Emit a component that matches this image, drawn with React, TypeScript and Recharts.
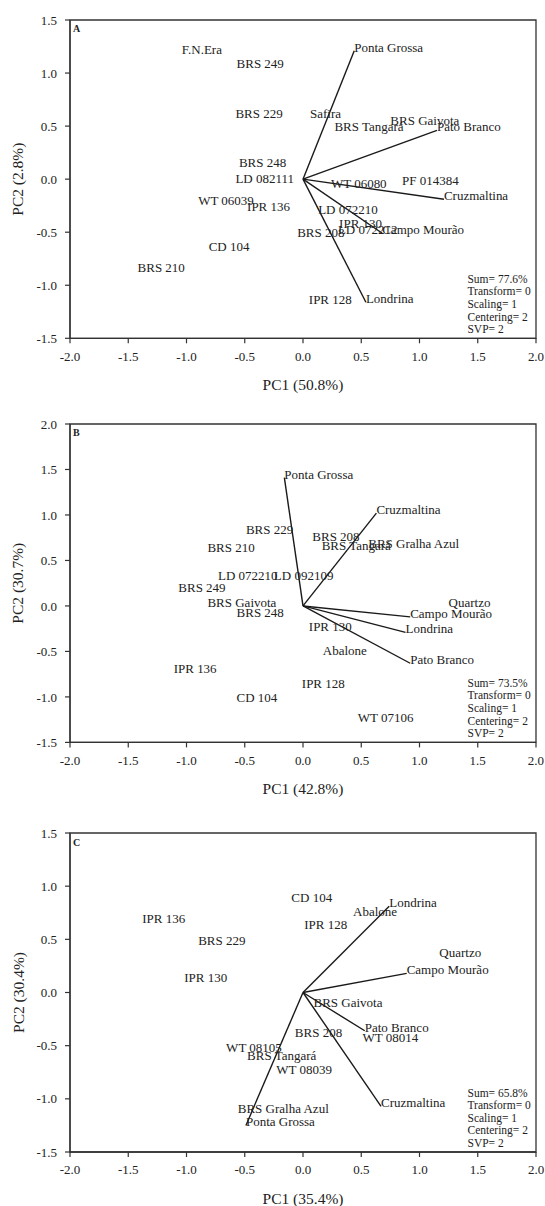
import React from 'react';
import {
  ScatterChart,
  Scatter,
  XAxis,
  YAxis,
  ReferenceLine,
  ReferenceArea,
  Label,
} from 'recharts';

const FONT = '"Liberation Serif", "Times New Roman", Times, serif';
const INK = '#222';

// ---------- Panel A ----------
const genoA_names = ['F.N.Era', 'BRS 249', 'BRS 229', 'Safira', 'BRS Tangará', 'BRS Gaivota', 'BRS 248', 'LD 082111', 'WT 06080', 'PF 014384', 'WT 06039', 'IPR 136', 'LD 072210', 'IPR 130', 'LD 072212', 'BRS 208', 'CD 104', 'BRS 210', 'IPR 128'];
const genoA_pc1 = [-1.04, -0.57, -0.58, 0.06, 0.27, 0.75, -0.55, -0.58, 0.24, 0.85, -0.9, -0.48, 0.13, 0.31, 0.3, -0.05, -0.81, -1.42, 0.05];
const genoA_pc2 = [1.19, 1.06, 0.59, 0.59, 0.46, 0.52, 0.12, -0.03, -0.07, -0.05, -0.23, -0.29, -0.32, -0.45, -0.51, -0.54, -0.67, -0.87, -1.17];
const envA_names = ['Ponta Grossa', 'Pato Branco', 'Cruzmaltina', 'Campo Mourão', 'Londrina'];
const envA_pc1 = [0.44, 1.15, 1.21, 0.68, 0.54];
const envA_pc2 = [1.21, 0.46, -0.19, -0.51, -1.16];

// ---------- Panel B ----------
const genoB_names = ['BRS 229', 'BRS 208', 'BRS Tangará', 'BRS Gralha Azul', 'BRS 210', 'LD 072210', 'LD 092109', 'BRS 249', 'BRS Gaivota', 'BRS 248', 'Quartzo', 'IPR 130', 'Abalone', 'IPR 136', 'IPR 128', 'CD 104', 'WT 07106'];
const genoB_pc1 = [-0.49, 0.08, 0.16, 0.56, -0.82, -0.73, -0.25, -1.07, -0.82, -0.57, 1.25, 0.05, 0.17, -1.11, -0.01, -0.57, 0.47];
const genoB_pc2 = [0.8, 0.73, 0.63, 0.65, 0.6, 0.3, 0.3, 0.16, 0.0, -0.11, 0.0, -0.27, -0.53, -0.73, -0.89, -1.05, -1.26];
const envB_names = ['Ponta Grossa', 'Cruzmaltina', 'Campo Mourão', 'Londrina', 'Pato Branco'];
const envB_pc1 = [-0.16, 0.63, 0.92, 0.88, 0.92];
const envB_pc2 = [1.41, 1.02, -0.12, -0.29, -0.63];

// ---------- Panel C ----------
const genoC_names = ['CD 104', 'Abalone', 'IPR 136', 'IPR 128', 'BRS 229', 'Quartzo', 'IPR 130', 'BRS Gaivota', 'BRS 208', 'WT 08014', 'WT 08105', 'BRS Tangará', 'WT 08039', 'BRS Gralha Azul'];
const genoC_pc1 = [-0.1, 0.43, -1.38, 0.01, -0.9, 1.17, -1.02, 0.09, -0.07, 0.51, -0.66, -0.48, -0.23, -0.56];
const genoC_pc2 = [0.86, 0.73, 0.66, 0.61, 0.46, 0.34, 0.11, -0.13, -0.41, -0.46, -0.55, -0.63, -0.76, -1.12];
const envC_names = ['Londrina', 'Campo Mourão', 'Pato Branco', 'Cruzmaltina', 'Ponta Grossa'];
const envC_pc1 = [0.74, 0.89, 0.53, 0.67, -0.49];
const envC_pc2 = [0.81, 0.18, -0.36, -1.07, -1.25];

const xTicks = [-2, -1.5, -1, -0.5, 0, 0.5, 1, 1.5, 2];
const yTicks15 = [-1.5, -1, -0.5, 0, 0.5, 1, 1.5];
const yTicks20 = [-1.5, -1, -0.5, 0, 0.5, 1, 1.5, 2];

const statsA = ['Sum= 77.6%', 'Transform= 0', 'Scaling= 1', 'Centering= 2', 'SVP= 2'];
const statsB = ['Sum= 73.5%', 'Transform= 0', 'Scaling= 1', 'Centering= 2', 'SVP= 2'];
const statsC = ['Sum= 65.8%', 'Transform= 0', 'Scaling= 1', 'Centering= 2', 'SVP= 2'];

const build = (names: string[], xs: number[], ys: number[]) =>
  names.map((name, i) => ({ name, x: xs[i], y: ys[i] }));

const panels = [
  {
    id: 'A', top: 0, plotH: 318.3, yDomain: [-1.5, 1.5], yTicks: yTicks15,
    xTitle: 'PC1 (50.8%)', yTitle: 'PC2 (2.8%)', stats: statsA,
    geno: build(genoA_names, genoA_pc1, genoA_pc2),
    env: build(envA_names, envA_pc1, envA_pc2),
  },
  {
    id: 'B', top: 404.3, plotH: 318.4, yDomain: [-1.5, 2], yTicks: yTicks20,
    xTitle: 'PC1 (42.8%)', yTitle: 'PC2 (30.7%)', stats: statsB,
    geno: build(genoB_names, genoB_pc1, genoB_pc2),
    env: build(envB_names, envB_pc1, envB_pc2),
  },
  {
    id: 'C', top: 813.3, plotH: 319, yDomain: [-1.5, 1.5], yTicks: yTicks15,
    xTitle: 'PC1 (35.4%)', yTitle: 'PC2 (30.4%)', stats: statsC,
    geno: build(genoC_names, genoC_pc1, genoC_pc2),
    env: build(envC_names, envC_pc1, envC_pc2),
  },
];

const W = 545;
const M = { top: 20, right: 9, bottom: 6, left: 10 };
const YW = 60;
const XH = 50;

const TextMark = (props: any) => {
  const { cx, cy, payload } = props;
  if (cx == null || cy == null) return null;
  return (
    <text x={cx} y={cy} dy={1} fontSize={13} fontFamily={FONT} fill={INK} textAnchor="start">
      {payload.name}
    </text>
  );
};

const Panel = ({ p }: { p: any }) => {
  const H = M.top + p.plotH + XH + M.bottom;
  const plotLeft = M.left + YW;
  const plotRight = W - M.right;
  const plotTop = M.top;
  const plotBottom = M.top + p.plotH;
  return (
    <div style={{ position: 'absolute', left: 0, top: p.top, width: W, height: H }}>
      <ScatterChart width={W} height={H} margin={M}>
        <XAxis
          type="number"
          dataKey="x"
          domain={[-2, 2]}
          ticks={xTicks}
          allowDataOverflow
          tickFormatter={(v: number) => v.toFixed(1)}
          tickSize={5}
          tickMargin={8}
          height={XH}
          axisLine={{ stroke: '#333', strokeWidth: 1.3 }}
          tickLine={{ stroke: '#333', strokeWidth: 1.2 }}
          tick={{ fontSize: 13, fontFamily: FONT, fill: INK }}
        >
          <Label
            content={() => (
              <text
                x={(plotLeft + plotRight) / 2}
                y={plotBottom + 51.5}
                textAnchor="middle"
                fontSize={15.5}
                fontFamily={FONT}
                fill={INK}
              >
                {p.xTitle}
              </text>
            )}
          />
        </XAxis>
        <YAxis
          type="number"
          dataKey="y"
          domain={p.yDomain}
          ticks={p.yTicks}
          allowDataOverflow
          tickFormatter={(v: number) => v.toFixed(1)}
          tickSize={5}
          tickMargin={8}
          width={YW}
          axisLine={{ stroke: '#333', strokeWidth: 1.3 }}
          tickLine={{ stroke: '#333', strokeWidth: 1.2 }}
          tick={{ fontSize: 13, fontFamily: FONT, fill: INK }}
        >
          <Label
            content={() => {
              const cx = 18;
              const cy = (plotTop + plotBottom) / 2;
              return (
                <text
                  x={cx}
                  y={cy}
                  transform={`rotate(-90, ${cx}, ${cy})`}
                  textAnchor="middle"
                  dominantBaseline="central"
                  fontSize={15.5}
                  fontFamily={FONT}
                  fill={INK}
                >
                  {p.yTitle}
                </text>
              );
            }}
          />
        </YAxis>
        <ReferenceArea
          x1={-2}
          x2={2}
          y1={p.yDomain[0]}
          y2={p.yDomain[1]}
          fill="none"
          fillOpacity={0}
          stroke="#333"
          strokeWidth={1.3}
          label={{
            content: () => (
              <g>
                <text x={plotLeft + 3} y={plotTop + 12.5} fontSize={10} fontWeight="bold" fontFamily={FONT} fill={INK}>
                  {p.id}
                </text>
                {p.stats.map((s: string, i: number) => (
                  <text
                    key={s}
                    x={plotRight - 68.5}
                    y={plotBottom - 59.5 + i * 12.6 + 4}
                    fontSize={11.5}
                    fontFamily={FONT}
                    fill={INK}
                  >
                    {s}
                  </text>
                ))}
              </g>
            ),
          }}
        />
        {p.env.map((e: any) => (
          <ReferenceLine
            key={e.name}
            segment={[{ x: 0, y: 0 }, { x: e.x, y: e.y }]}
            stroke="#1a1a1a"
            strokeWidth={1.4}
            ifOverflow="visible"
          />
        ))}
        <Scatter data={p.geno} shape={TextMark} isAnimationActive={false} />
        <Scatter data={p.env} shape={TextMark} isAnimationActive={false} />
      </ScatterChart>
    </div>
  );
};

export default function App() {
  return (
    <div style={{ position: 'absolute', left: 0, top: 0, width: W, height: 1206, background: '#fff', overflow: 'hidden' }}>
      {panels.map((p) => (
        <Panel key={p.id} p={p} />
      ))}
    </div>
  );
}
